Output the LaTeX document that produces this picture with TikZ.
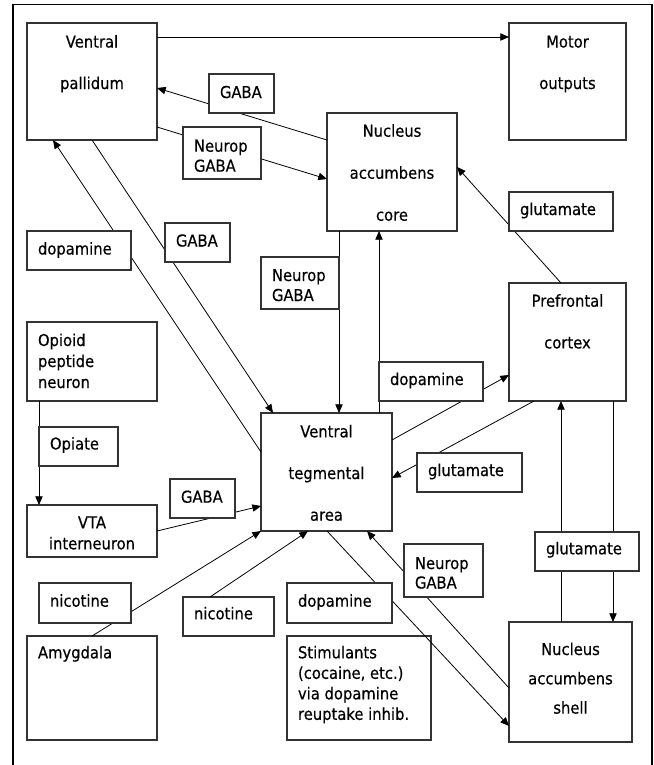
\documentclass[tikz,border=0pt]{standalone}
\usepackage{fontspec}
\setmainfont{DejaVu Sans}[FakeStretch=0.9,FakeBold=0.4]
\usetikzlibrary{arrows.meta,calc}
\newlength{\pxu}\setlength{\pxu}{0.75pt}
\newcommand{\lft}{\raggedright\leftskip=11\pxu\relax}
\newcommand{\bxtext}[6]{\parbox[c][#2\pxu][t]{#1\pxu}{\fontsize{12.3pt}{14pt}\selectfont\baselineskip=#4\pxu\relax\lineskiplimit=-100pt\lineskip=0pt\relax #5\vspace*{\dimexpr #3\pxu-10pt\relax}\rule{0pt}{10pt}#6\par}}
\tikzset{
  bx/.style={draw=black!80, line width=0.85pt, inner sep=0pt, outer sep=0pt, anchor=north west, fill=white},
  conn/.style={line width=0.6pt, -{Triangle[length=6.5pt,width=5.5pt]}},
  frameline/.style={line width=1pt}
}
\begin{document}
\begin{tikzpicture}[x=0.75pt,y=-0.75pt]
\useasboundingbox (0,0) rectangle (654,765);
\draw[frameline] (13,765) -- (13,4.5) -- (652,4.5) -- (652,765);
% main boxes
\node[bx] (vp) at (27,23) {\bxtext{130}{117}{24.5}{41.5}{\centering}{Ventral\\pallidum}};
\node[bx] (motor) at (509,23) {\bxtext{117}{117}{24.5}{41.5}{\centering}{Motor\\outputs}};
\node[bx] (nac) at (327,113) {\bxtext{130}{118}{23.7}{42}{\centering}{Nucleus\\accumbens\\core}};
\node[bx] (pfc) at (509,283) {\bxtext{117}{118}{23.7}{41.7}{\centering}{Prefrontal\\cortex}};
\node[bx] (vta) at (261,413) {\bxtext{131}{118}{24.3}{41.7}{\centering}{Ventral\\tegmental\\area}};
\node[bx] (opioid) at (27,322) {\bxtext{130}{79}{24}{21}{\lft}{Opioid\\peptide\\neuron}};
\node[bx] (vtai) at (27,505) {\bxtext{130}{52}{23.3}{21}{\centering}{VTA\\interneuron}};
\node[bx] (amy) at (27,636) {\bxtext{130}{104}{22.3}{21}{\lft}{Amygdala}};
\node[bx] (stim) at (287,636) {\bxtext{144}{104}{22.3}{20.5}{\lft}{Stimulants\\(cocaine, etc.)\\via dopamine\\reuptake inhib.}};
\node[bx] (shell) at (509,622) {\bxtext{123}{120}{33}{29.3}{\centering}{Nucleus\\accumbens\\shell}};
\node[bx] (nicB) at (183,597) {\bxtext{91}{39}{22.3}{20}{\lft}{nicotine}};
% connectors
\draw[conn] ($(vp.north east)+(0,14)$) -- ($(motor.north west)+(0,14)$);
\draw[conn] ($(nac.north west)+(0,27)$) -- ($(vp.north east)+(0,65)$);
\draw[conn] ($(vp.north east)+(0,104)$) -- ($(nac.north west)+(0,66)$);
\draw[conn] ($(vta.north west)+(0,39)$) -- ($(vp.south west)+(26,0)$);
\draw[conn] ($(vp.south west)+(65,0)$) -- ($(vta.north west)+(12,0)$);
\draw[conn] ($(nac.south west)+(12,0)$) -- ($(vta.north west)+(78,0)$);
\draw[conn] ($(vta.north west)+(118,0)$) -- ($(nac.south west)+(52,0)$);
\draw[conn] ($(vta.north east)+(0,27)$) -- ($(pfc.north west)+(0,92)$);
\draw[conn] ($(pfc.south west)+(25,0)$) -- ($(vta.north east)+(0,65)$);
\draw[conn] ($(pfc.north west)+(52,0)$) -- ($(nac.north east)+(0,54)$);
\draw[conn] ($(shell.north west)+(52,0)$) -- ($(pfc.south west)+(52,0)$);
\draw[conn] ($(pfc.south west)+(104,0)$) -- ($(shell.north west)+(104,0)$);
\draw[conn] ($(opioid.south west)+(12,0)$) -- ($(vtai.north west)+(12,0)$);
\draw[conn] ($(vtai.north east)+(0,26)$) -- ($(vta.south west)+(0,-25)$);
\draw[conn] ($(amy.north west)+(65,0)$) -- (vta.south west);
\draw[conn] ($(nicB.north west)+(27,0)$) -- ($(vta.south west)+(47,0)$);
\draw[conn] ($(vta.south west)+(66,0)$) -- ($(shell.north west)+(0,104)$);
\draw[conn] ($(shell.north west)+(0,66)$) -- ($(vta.south west)+(106,0)$);
% label boxes
\node[bx] (gabaA) at (209,74) {\bxtext{65}{39}{24}{20}{\lft}{GABA}};
\node[bx] (ngA) at (183,127) {\bxtext{78}{52}{24.7}{20}{\lft}{Neurop\\GABA}};
\node[bx] (gluA) at (509,192) {\bxtext{104}{39}{23}{20}{\lft}{glutamate}};
\node[bx] (dopA) at (27,231) {\bxtext{104}{39}{23.5}{20}{\lft}{dopamine}};
\node[bx] (gabaB) at (165,223) {\bxtext{65}{39}{23.5}{20}{\lft}{GABA}};
\node[bx] (ngB) at (261,257) {\bxtext{78}{52}{24}{20}{\lft}{Neurop\\GABA}};
\node[bx] (opiate) at (39,427) {\bxtext{79}{39}{22.5}{20}{\lft}{Opiate}};
\node[bx] (dopB) at (379,362) {\bxtext{104}{39}{23}{20}{\lft}{dopamine}};
\node[bx] (gluB) at (417,453) {\bxtext{105}{39}{23}{20}{\lft}{glutamate}};
\node[bx] (gabaC) at (170,479) {\bxtext{65}{39}{23.7}{20}{\lft}{GABA}};
\node[bx] (nicA) at (39,583) {\bxtext{92}{40}{23.7}{20}{\lft}{nicotine}};
\node[bx] (dopC) at (287,583) {\bxtext{105}{40}{23.7}{20}{\lft}{dopamine}};
\node[bx] (ngC) at (404,544) {\bxtext{79}{53}{25}{19.5}{\lft}{Neurop\\GABA}};
\node[bx] (gluC) at (535,532) {\bxtext{104}{39}{22.3}{20}{\lft}{glutamate}};
\end{tikzpicture}
\end{document}
